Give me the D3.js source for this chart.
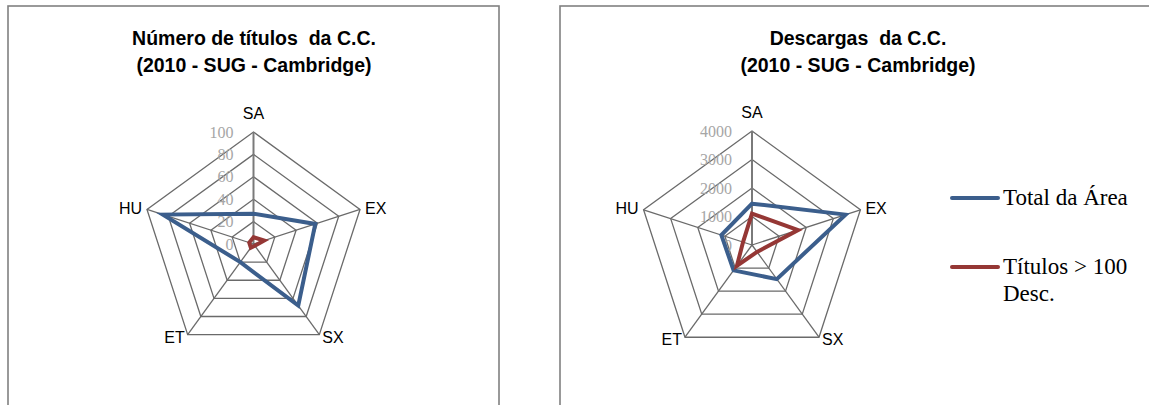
<!DOCTYPE html>
<html>
<head>
<meta charset="utf-8">
<script src="https://cdn.jsdelivr.net/npm/d3@7"></script>
<style>
  body { margin: 0; background: #fff; }
  text { white-space: pre; }
</style>
</head>
<body>
<svg id="chart" width="1149" height="405"></svg>
<script>
// categories (clockwise from top)
const axes = ["SA", "EX", "SX", "ET", "HU"];

// left chart: número de títulos
const titulosTotal = [27, 58, 68, 20, 85];
const titulosMais100 = [6, 10, 2, 4, 4];
const titulosTicks = [0, 20, 40, 60, 80, 100];

// right chart: descargas
const descargasTotal = [1450, 3450, 1480, 1100, 1130];
const descargasMais100 = [1100, 1700, 300, 900, 330];
const descargasTicks = [0, 1000, 2000, 3000, 4000];

const seriesNames = ["Total da Área", "Títulos > 100|Desc."];
const seriesColors = ["#3b5e8c", "#953735"];

const svg = d3.select("#chart");

// panel frames
svg.append("rect").attr("x", 8).attr("y", 6).attr("width", 491).attr("height", 420)
    .attr("fill", "none").attr("stroke", "#808080").attr("stroke-width", 1.6);
svg.append("rect").attr("x", 560).attr("y", 6).attr("width", 620).attr("height", 420)
    .attr("fill", "none").attr("stroke", "#808080").attr("stroke-width", 1.6);

function drawRadar(opts) {
    const { cx, cy, R, ticks, series, title, titleX } = opts;
    const g = svg.append("g").attr("transform", `translate(${cx},${cy})`);
    const rScale = d3.scaleLinear().domain([0, d3.max(ticks)]).range([0, R]);
    const angle = d3.scalePoint().domain(axes).range([0, 2 * Math.PI * (axes.length - 1) / axes.length]);

    const ring = d3.lineRadial()
        .angle(d => angle(d.axis))
        .radius(d => rScale(d.value))
        .curve(d3.curveLinearClosed);

    // grid rings
    g.selectAll(".ring")
        .data(ticks.filter(t => t > 0))
        .join("path")
        .attr("class", "ring")
        .attr("d", t => ring(axes.map(a => ({ axis: a, value: t }))))
        .attr("fill", "none")
        .attr("stroke", "#6a6a6a")
        .attr("stroke-width", 1.3);

    // spokes
    const maxV = d3.max(ticks);
    g.selectAll(".spoke")
        .data(axes)
        .join("line")
        .attr("class", "spoke")
        .attr("x1", 0).attr("y1", 0)
        .attr("x2", a => rScale(maxV) * Math.sin(angle(a)))
        .attr("y2", a => -rScale(maxV) * Math.cos(angle(a)))
        .attr("stroke", a => a === axes[0] ? "#7a7a7a" : "#6a6a6a")
        .attr("stroke-width", a => a === axes[0] ? 2 : 1.3);

    // tick labels along first axis
    g.selectAll(".tick")
        .data(ticks)
        .join("text")
        .attr("class", "tick")
        .attr("x", -20)
        .attr("y", t => -rScale(t) + 2)
        .attr("dominant-baseline", "middle")
        .attr("text-anchor", "end")
        .attr("font-family", "Liberation Serif")
        .attr("font-size", 16)
        .attr("fill", "#a6a6a6")
        .text(t => t);

    // series
    series.forEach((s, i) => {
        g.append("path")
            .attr("d", ring(axes.map((a, j) => ({ axis: a, value: s[j] }))))
            .attr("fill", "none")
            .attr("stroke", seriesColors[i])
            .attr("stroke-width", 4)
            .attr("stroke-linejoin", "miter");
    });

    // category labels
    const labelPos = {
        SA: { dx: 0, dy: -R - 17, anchor: "middle" },
        EX: { dx: 5, dy: 0, anchor: "start" },
        SX: { dx: 3, dy: 4, anchor: "start" },
        ET: { dx: -3, dy: 4, anchor: "end" },
        HU: { dx: -5, dy: 0, anchor: "end" }
    };
    g.selectAll(".cat")
        .data(axes)
        .join("text")
        .attr("class", "cat")
        .attr("x", a => R * Math.sin(angle(a)) + labelPos[a].dx)
        .attr("y", a => a === "SA" ? labelPos[a].dy : -R * Math.cos(angle(a)) + labelPos[a].dy)
        .attr("dominant-baseline", "middle")
        .attr("text-anchor", a => labelPos[a].anchor)
        .attr("font-family", "Liberation Sans")
        .attr("font-size", 16)
        .attr("fill", "#000")
        .text(a => a);

    // title
    svg.append("g").selectAll("text")
        .data(title)
        .join("text")
        .attr("x", titleX)
        .attr("y", (d, i) => 45 + i * 27)
        .attr("text-anchor", "middle")
        .attr("font-family", "Liberation Sans")
        .attr("font-weight", "bold")
        .attr("font-size", 19.5)
        .attr("fill", "#000")
        .text(d => d);
}

drawRadar({
    cx: 253.5, cy: 244, R: 112,
    ticks: titulosTicks,
    series: [titulosTotal, titulosMais100],
    title: ["Número de títulos  da C.C.", "(2010 - SUG - Cambridge)"],
    titleX: 254
});

drawRadar({
    cx: 752, cy: 245, R: 114,
    ticks: descargasTicks,
    series: [descargasTotal, descargasMais100],
    title: ["Descargas  da C.C.", "(2010 - SUG - Cambridge)"],
    titleX: 858
});

// legend
const legend = svg.append("g").attr("transform", "translate(952,0)");
const legendY = [198, 267];
seriesNames.forEach((name, i) => {
    legend.append("line")
        .attr("x1", 0).attr("x2", 46)
        .attr("y1", legendY[i]).attr("y2", legendY[i])
        .attr("stroke", seriesColors[i])
        .attr("stroke-width", 4)
        .attr("stroke-linecap", "round");
    legend.append("g").selectAll("text")
        .data(name.split("|"))
        .join("text")
        .attr("x", 51)
        .attr("y", (d, k) => legendY[i] + 7 + k * 27)
        .attr("font-family", "Liberation Serif")
        .attr("font-size", 23)
        .attr("fill", "#000")
        .text(d => d);
});
</script>
</body>
</html>
